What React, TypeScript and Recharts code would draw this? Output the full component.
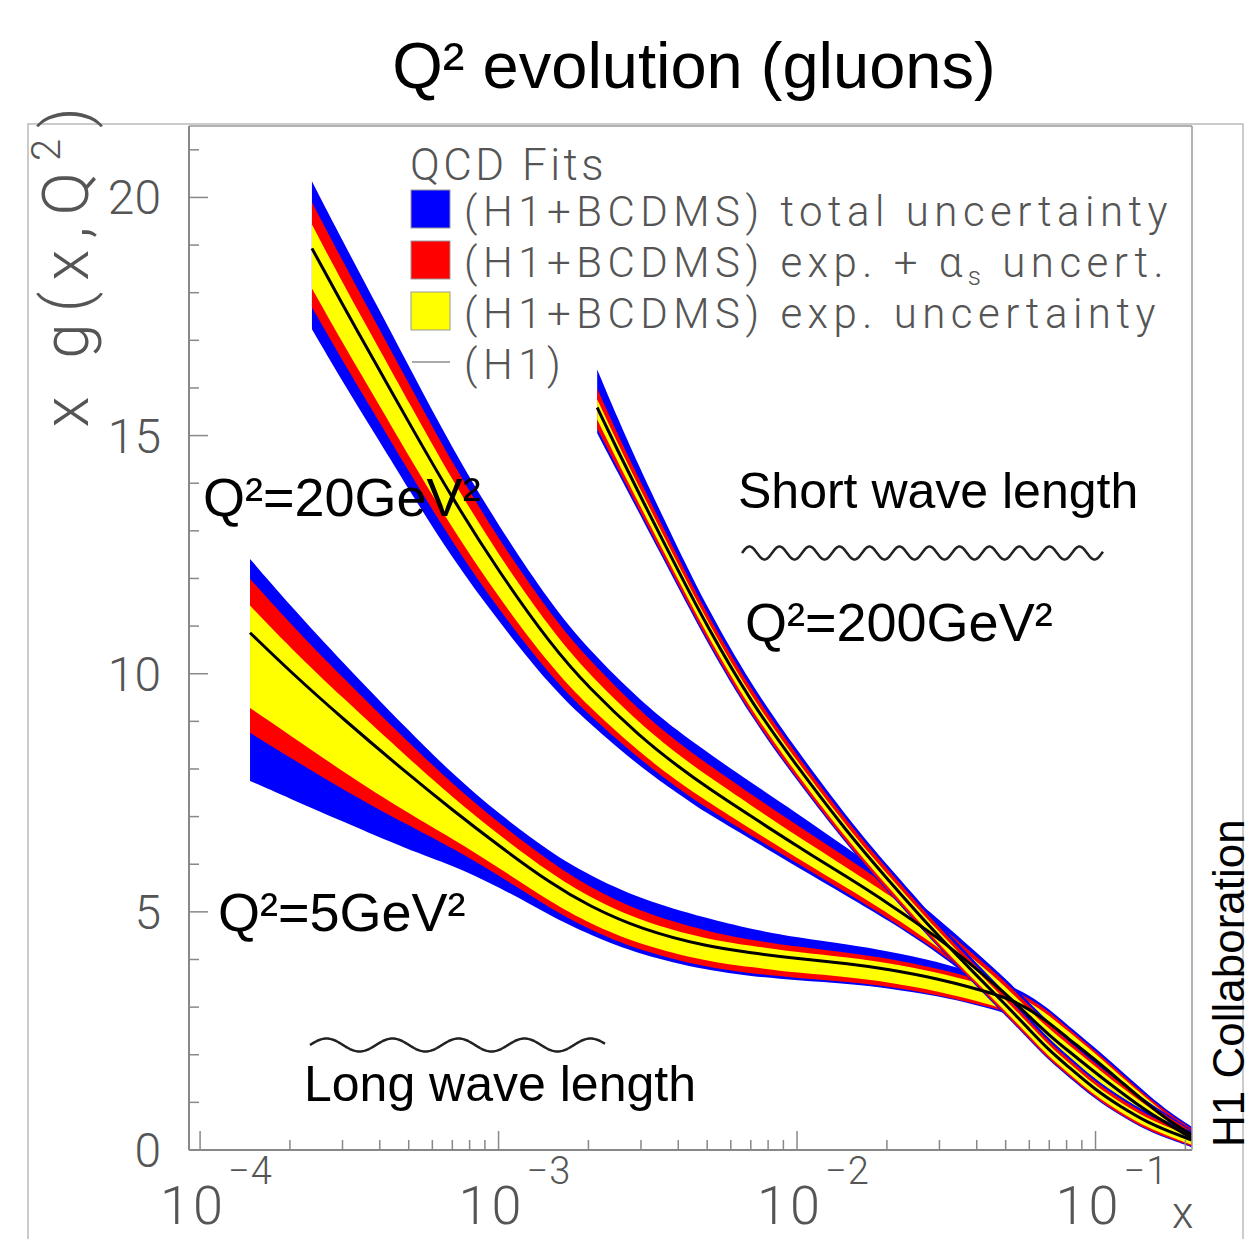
import React from "react";
import { ComposedChart, Area, Line, XAxis, YAxis } from "recharts";

// Q^2 = 5 GeV^2
const xQ5 = [1.47e-4, 2e-4, 3e-4, 5e-4, 7e-4, 1e-3, 1.5e-3, 2e-3, 3e-3, 5e-3, 7e-3, 1e-2, 1.5e-2, 2e-2, 3e-2, 4e-2, 5e-2, 6e-2, 7e-2, 8e-2, 0.1, 0.12, 0.15, 0.18, 0.21];
const gQ5 = [10.86, 10.05, 9.06, 7.88, 7.14, 6.39, 5.59, 5.13, 4.63, 4.27, 4.14, 4.02, 3.91, 3.8, 3.59, 3.38, 3.21, 2.96, 2.67, 2.37, 1.89, 1.47, 0.95, 0.57, 0.32];
const totUpQ5 = [1.55, 1.39, 1.18, 0.92, 0.76, 0.67, 0.65, 0.65, 0.63, 0.59, 0.5, 0.44, 0.4, 0.38, 0.36, 0.32, 0.29, 0.29, 0.29, 0.27, 0.25, 0.23, 0.21, 0.19, 0.17];
const asUpQ5 = [1.13, 1.01, 0.86, 0.67, 0.55, 0.48, 0.44, 0.4, 0.36, 0.32, 0.27, 0.25, 0.23, 0.23, 0.21, 0.21, 0.21, 0.23, 0.23, 0.21, 0.19, 0.17, 0.15, 0.15, 0.13];
const expUpQ5 = [0.57, 0.5, 0.44, 0.34, 0.27, 0.23, 0.21, 0.19, 0.17, 0.15, 0.15, 0.13, 0.13, 0.13, 0.13, 0.13, 0.13, 0.15, 0.15, 0.15, 0.13, 0.11, 0.11, 0.08, 0.08];
const expDnQ5 = [1.58, 1.34, 1.11, 0.82, 0.6, 0.46, 0.39, 0.36, 0.33, 0.31, 0.3, 0.3, 0.28, 0.27, 0.26, 0.25, 0.25, 0.25, 0.25, 0.23, 0.21, 0.19, 0.17, 0.15, 0.13];
const asDnQ5 = [2.1, 1.81, 1.49, 1.07, 0.8, 0.62, 0.53, 0.49, 0.46, 0.44, 0.43, 0.41, 0.38, 0.36, 0.34, 0.32, 0.29, 0.29, 0.29, 0.27, 0.25, 0.23, 0.21, 0.19, 0.17];
const totDnQ5 = [3.11, 2.67, 2.16, 1.58, 1.16, 0.86, 0.68, 0.6, 0.54, 0.5, 0.49, 0.46, 0.42, 0.4, 0.36, 0.34, 0.32, 0.32, 0.32, 0.29, 0.27, 0.25, 0.23, 0.21, 0.19];

// Q^2 = 20 GeV^2
const xQ20 = [2.37e-4, 3e-4, 4e-4, 5e-4, 7e-4, 1e-3, 1.5e-3, 2e-3, 3e-3, 4e-3, 5e-3, 7e-3, 1e-2, 1.5e-2, 2e-2, 3e-2, 4e-2, 5e-2, 6e-2, 7e-2, 8e-2, 0.1, 0.12, 0.15, 0.18, 0.21];
const gQ20 = [18.93, 17.75, 16.36, 15.28, 13.68, 12.15, 10.6, 9.71, 8.66, 8.05, 7.61, 7.01, 6.38, 5.7, 5.2, 4.44, 3.8, 3.28, 2.8, 2.41, 2.11, 1.62, 1.24, 0.79, 0.5, 0.25];
const totUpQ20 = [1.41, 1.34, 1.26, 1.18, 1.05, 0.95, 0.86, 0.8, 0.76, 0.74, 0.74, 0.71, 0.69, 0.61, 0.53, 0.4, 0.34, 0.32, 0.29, 0.27, 0.25, 0.23, 0.23, 0.21, 0.19, 0.17];
const asUpQ20 = [0.97, 0.92, 0.86, 0.82, 0.74, 0.67, 0.63, 0.59, 0.53, 0.5, 0.5, 0.46, 0.44, 0.4, 0.36, 0.29, 0.25, 0.25, 0.23, 0.21, 0.21, 0.19, 0.19, 0.17, 0.15, 0.15];
const expUpQ20 = [0.5, 0.46, 0.44, 0.42, 0.38, 0.34, 0.32, 0.29, 0.27, 0.25, 0.25, 0.23, 0.21, 0.19, 0.19, 0.17, 0.15, 0.15, 0.13, 0.13, 0.13, 0.13, 0.11, 0.11, 0.08, 0.08];
const expDnQ20 = [0.84, 0.8, 0.74, 0.71, 0.63, 0.55, 0.46, 0.4, 0.34, 0.32, 0.29, 0.27, 0.25, 0.23, 0.21, 0.19, 0.19, 0.19, 0.17, 0.17, 0.17, 0.15, 0.15, 0.15, 0.13, 0.13];
const asDnQ20 = [1.24, 1.18, 1.09, 1.03, 0.92, 0.8, 0.67, 0.57, 0.48, 0.46, 0.44, 0.4, 0.36, 0.34, 0.32, 0.27, 0.25, 0.25, 0.23, 0.23, 0.21, 0.21, 0.19, 0.19, 0.17, 0.17];
const totDnQ20 = [1.7, 1.62, 1.49, 1.41, 1.26, 1.05, 0.88, 0.74, 0.63, 0.57, 0.55, 0.48, 0.44, 0.4, 0.36, 0.32, 0.29, 0.29, 0.25, 0.25, 0.23, 0.23, 0.21, 0.21, 0.19, 0.19];

// Q^2 = 200 GeV^2
const xQ200 = [2.14e-3, 2.5e-3, 3e-3, 4e-3, 5e-3, 7e-3, 1e-2, 1.5e-2, 2e-2, 3e-2, 4e-2, 5e-2, 6e-2, 7e-2, 8e-2, 0.1, 0.12, 0.15, 0.18, 0.21];
const gQ200 = [15.59, 14.7, 13.7, 12.16, 10.99, 9.41, 8.05, 6.61, 5.7, 4.46, 3.66, 3.05, 2.53, 2.09, 1.78, 1.26, 0.93, 0.57, 0.37, 0.21];
const totUpQ200 = [0.8, 0.68, 0.56, 0.46, 0.4, 0.37, 0.34, 0.31, 0.29, 0.28, 0.26, 0.25, 0.25, 0.24, 0.23, 0.22, 0.21, 0.2, 0.19, 0.18];
const asUpQ200 = [0.4, 0.34, 0.31, 0.27, 0.26, 0.25, 0.23, 0.22, 0.21, 0.2, 0.19, 0.19, 0.18, 0.18, 0.17, 0.16, 0.16, 0.15, 0.14, 0.13];
const expUpQ200 = [0.17, 0.15, 0.14, 0.12, 0.11, 0.11, 0.11, 0.1, 0.1, 0.1, 0.1, 0.1, 0.1, 0.1, 0.09, 0.09, 0.08, 0.08, 0.08, 0.07];
const expDnQ200 = [0.25, 0.23, 0.21, 0.19, 0.18, 0.17, 0.17, 0.16, 0.15, 0.15, 0.14, 0.14, 0.14, 0.14, 0.13, 0.13, 0.12, 0.11, 0.1, 0.1];
const asDnQ200 = [0.44, 0.37, 0.33, 0.29, 0.28, 0.27, 0.26, 0.24, 0.23, 0.21, 0.2, 0.2, 0.2, 0.19, 0.18, 0.17, 0.17, 0.16, 0.14, 0.13];
const totDnQ200 = [0.54, 0.46, 0.4, 0.35, 0.34, 0.32, 0.3, 0.28, 0.26, 0.24, 0.23, 0.23, 0.22, 0.22, 0.21, 0.2, 0.19, 0.18, 0.16, 0.15];

// axes
const xTicks = [
  1e-4, 2e-4, 3e-4, 4e-4, 5e-4, 6e-4, 7e-4, 8e-4, 9e-4,
  1e-3, 2e-3, 3e-3, 4e-3, 5e-3, 6e-3, 7e-3, 8e-3, 9e-3,
  1e-2, 2e-2, 3e-2, 4e-2, 5e-2, 6e-2, 7e-2, 8e-2, 9e-2,
  1e-1, 2e-1,
];
const yTicks = [0, 1, 2, 3, 4, 5, 6, 7, 8, 9, 10, 11, 12, 13, 14, 15, 16, 17, 18, 19, 20, 21];

const legendItems = [
  { color: "#0000ff", label: "total uncertainty" },
  { color: "#ff0000", label: "exp. + " },
  { color: "#ffff00", label: "exp. uncertainty" },
];

const BLUE = "#0000ff";
const RED = "#ff0000";
const YELLOW = "#ffff00";
const GREY = "#555";
const THIN = "Roboto, 'Open Sans', sans-serif";
const ARIAL = "'Liberation Sans', Arial, sans-serif";

function buildBand(
  x: number[], g: number[],
  totUp: number[], totDn: number[],
  asUp: number[], asDn: number[],
  expUp: number[], expDn: number[]
) {
  return x.map((xv, i) => ({
    x: xv,
    g: g[i],
    tot: [g[i] - totDn[i], g[i] + totUp[i]],
    as: [g[i] - asDn[i], g[i] + asUp[i]],
    exp: [g[i] - expDn[i], g[i] + expUp[i]],
  }));
}

const bands = [
  { id: "q5", rows: buildBand(xQ5, gQ5, totUpQ5, totDnQ5, asUpQ5, asDnQ5, expUpQ5, expDnQ5) },
  { id: "q20", rows: buildBand(xQ20, gQ20, totUpQ20, totDnQ20, asUpQ20, asDnQ20, expUpQ20, expDnQ20) },
  { id: "q200", rows: buildBand(xQ200, gQ200, totUpQ200, totDnQ200, asUpQ200, asDnQ200, expUpQ200, expDnQ200) },
];

function XTick(props: any) {
  const { x, y, payload } = props;
  const lg = Math.log10(payload.value);
  const e = Math.round(lg);
  const major = Math.abs(lg - e) < 1e-6;
  return (
    <g>
      <line x1={x} x2={x} y1={y} y2={y - (major ? 19 : 10)} stroke="#888" strokeWidth={1.5} />
      {major && (
        <g fill={GREY} fontFamily={THIN} fontWeight={300}>
          <text x={x - 40} y={y + 74} fontSize={54} letterSpacing={3}>10</text>
          <text x={x + 28} y={y + 34} fontSize={38} letterSpacing={1}>{"\u2212" + -e}</text>
        </g>
      )}
    </g>
  );
}

function YTick(props: any) {
  const { x, y, payload } = props;
  const major = payload.value % 5 === 0;
  return (
    <g>
      <line x1={x} x2={x + (major ? 19 : 10)} y1={y} y2={y} stroke="#888" strokeWidth={1.5} />
      {major && (
        <text x={x - 28} y={y + 17} textAnchor="end" fontSize={48} fill={GREY} fontFamily={THIN} fontWeight={300}>
          {payload.value}
        </text>
      )}
    </g>
  );
}

function wave(x0: number, x1: number, yc: number, amp: number, period: number) {
  let d = `M${x0},${yc}`;
  for (let px = x0; px <= x1; px += 1) {
    d += ` L${px},${(yc - amp * Math.sin(((px - x0) / period) * 2 * Math.PI)).toFixed(2)}`;
  }
  return d;
}

function Overlay() {
  return (
    <svg width={1255} height={1239} style={{ position: "absolute", left: 0, top: 0, pointerEvents: "none" }}>
      {/* frames */}
      <rect x={28} y={124} width={1215} height={1140} fill="none" stroke="#bbb" strokeWidth={1.5} />
      <line x1={189} x2={1192} y1={126} y2={126} stroke="#999" strokeWidth={1.5} />
      <line x1={1192} x2={1192} y1={126} y2={1150} stroke="#999" strokeWidth={1.5} />

      {/* title */}
      <text x={694} y={88} textAnchor="middle" fontFamily={ARIAL} fontSize={65} fill="#000">
        Q² evolution (gluons)
      </text>

      {/* axis titles */}
      <text
        x={88} y={96} transform="rotate(-90 88 96)" textAnchor="end"
        fontFamily={THIN} fontWeight={300} fontSize={64} letterSpacing={11} fill={GREY}
      >
        x g(x,Q<tspan fontSize={40} dy={-28}>2</tspan><tspan dy={28}>)</tspan>
      </text>
      <text x={1172} y={1228} fontFamily={THIN} fontWeight={300} fontSize={44} fill={GREY}>x</text>
      <text
        x={1244} y={1147} transform="rotate(-90 1244 1147)"
        fontFamily={ARIAL} fontSize={44} fill="#000"
      >
        H1 Collaboration
      </text>

      {/* legend */}
      <g fontFamily={THIN} fontWeight={300} fill={GREY} fontSize={42} letterSpacing={5.5}>
        <text x={410} y={180} fontSize={44} letterSpacing={3.5}>QCD Fits</text>
        {legendItems.map((it, i) => (
          <g key={it.label}>
            <rect x={411} y={190 + i * 51} width={39} height={38} fill={it.color} stroke="#999" strokeWidth={1} />
            <text x={464} y={226 + i * 51}>
              (H1+BCDMS) {it.label}
              {i === 1 && (
                <>
                  α<tspan fontSize={26} dy={8}>s</tspan>
                  <tspan dy={-8}> uncert.</tspan>
                </>
              )}
            </text>
          </g>
        ))}
        <line x1={412} x2={450} y1={362} y2={362} stroke="#aaa" strokeWidth={2} />
        <text x={464} y={379}>(H1)</text>
      </g>

      {/* annotations */}
      <g fontFamily={ARIAL} fill="#000">
        <text x={203} y={516} fontSize={54}>Q²=20GeV²</text>
        <text x={218} y={931} fontSize={54}>Q²=5GeV²</text>
        <text x={745} y={641} fontSize={54}>Q²=200GeV²</text>
        <text x={738} y={508} fontSize={50}>Short wave length</text>
        <text x={304} y={1101} fontSize={50}>Long wave length</text>
      </g>
      <path d={wave(742, 1103, 553, 6.5, 30)} fill="none" stroke="#222" strokeWidth={2.5} />
      <path d={wave(310, 605, 1045, 6.5, 66)} fill="none" stroke="#222" strokeWidth={2.5} />
    </svg>
  );
}

export default function App() {
  return (
    <div style={{ position: "absolute", left: 0, top: 0, width: 1255, height: 1239, background: "#fff" }}>
      <ComposedChart width={1255} height={1239} margin={{ top: 126, right: 63, bottom: 88, left: 188 }}>
        <XAxis
          dataKey="x"
          type="number"
          scale="log"
          domain={[9.18e-5, 0.2105]}
          allowDataOverflow
          ticks={xTicks}
          interval={0}
          tick={<XTick />}
          tickLine={false}
          tickSize={0}
          tickMargin={0}
          height={1}
          axisLine={{ stroke: "#888", strokeWidth: 2 }}
        />
        <YAxis
          type="number"
          domain={[0, 21.5]}
          allowDataOverflow
          ticks={yTicks}
          interval={0}
          tick={<YTick />}
          tickLine={false}
          tickSize={0}
          tickMargin={0}
          width={1}
          axisLine={{ stroke: "#888", strokeWidth: 2 }}
        />
        {bands.flatMap((b) => [
          <Area key={b.id + "tot"} data={b.rows} dataKey="tot" type="basis" stroke="none" fill={BLUE} fillOpacity={1} isAnimationActive={false} activeDot={false} />,
          <Area key={b.id + "as"} data={b.rows} dataKey="as" type="basis" stroke="none" fill={RED} fillOpacity={1} isAnimationActive={false} activeDot={false} />,
          <Area key={b.id + "exp"} data={b.rows} dataKey="exp" type="basis" stroke="none" fill={YELLOW} fillOpacity={1} isAnimationActive={false} activeDot={false} />,
          <Line key={b.id + "g"} data={b.rows} dataKey="g" type="basis" stroke="#000" strokeWidth={3} dot={false} activeDot={false} isAnimationActive={false} />,
        ])}
      </ComposedChart>
      <Overlay />
    </div>
  );
}
